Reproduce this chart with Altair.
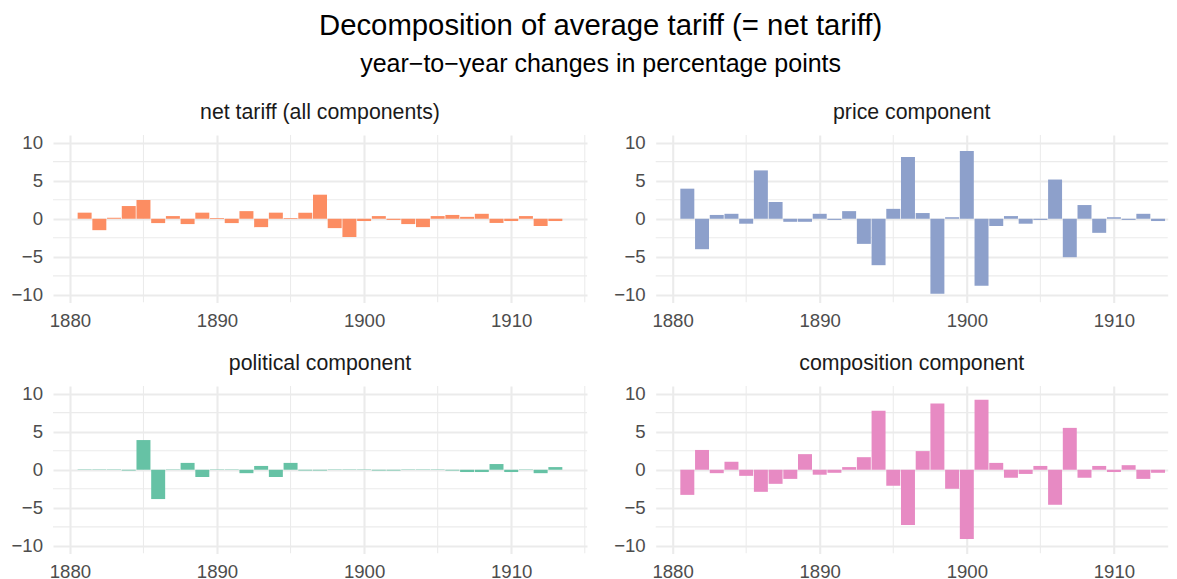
import altair as alt
import pandas as pd

# ---- data ----
years = list(range(1881, 1914))

net_tariff = [0.8, -1.5, 0.13, 1.67, 2.46, -0.57, 0.35, -0.7, 0.8, 0.1,
              -0.57, 1.0, -1.1, 0.8, 0.1, 0.8, 3.16, -1.23, -2.4, -0.3,
              0.35, -0.15, -0.7, -1.1, 0.35, 0.5, 0.25, 0.65, -0.55, -0.3,
              0.35, -0.95, -0.3]

price = [3.95, -4.0, 0.5, 0.65, -0.65, 6.35, 2.2, -0.4, -0.4, 0.65,
         -0.15, 1.0, -3.3, -6.1, 1.3, 8.1, 0.75, -9.85, 0.2, 8.9,
         -8.8, -0.95, 0.35, -0.65, -0.15, 5.15, -5.05, 1.8, -1.85, 0.2,
         -0.15, 0.65, -0.3]

political = [0.05, 0.05, 0.05, -0.1, 3.9, -3.85, 0.05, 0.9, -0.95, 0.05,
             0.05, -0.45, 0.5, -0.95, 0.9, -0.1, -0.1, 0.05, 0.05, 0.05,
             -0.1, -0.1, 0.05, 0.05, 0.05, -0.1, -0.3, -0.3, 0.75, -0.3,
             0.05, -0.45, 0.35]

composition = [-3.3, 2.6, -0.45, 1.05, -0.8, -2.9, -1.85, -1.2, 2.05, -0.65,
               -0.4, 0.35, 1.65, 7.75, -2.1, -7.25, 2.45, 8.7, -2.5, -9.1,
               9.2, 0.9, -1.05, -0.55, 0.5, -4.6, 5.5, -1.05, 0.5, -0.3,
               0.6, -1.2, -0.4]

panel_titles = ["net tariff (all components)", "price component",
                "political component", "composition component"]
panel_colors = ["#FC8D62", "#8DA0CB", "#66C2A5", "#E78AC3"]

x_ticks = [1880, 1890, 1900, 1910]
x_minor = [1885, 1895, 1905, 1915]
y_ticks = [-10, -5, 0, 5, 10]
y_minor = [-7.5, -2.5, 2.5, 7.5]

FONT = "Liberation Sans"
GRID = "#EBEBEB"
PX_PER_YEAR = 14.71
X_START = 1878.85
LEFT_W = 534          # left column: full expanded range to 1915.15
RIGHT_W = 512         # right column is cut by the page edge in the reference
PH = 167.5
Y_DOMAIN = [-11, 11]


def panel(values, color, title, width):
    df = pd.DataFrame({"year": years, "value": values})
    xs = alt.Scale(domain=[X_START, X_START + width / PX_PER_YEAR],
                   nice=False, zero=False)
    ys = alt.Scale(domain=Y_DOMAIN, nice=False, zero=False)

    vminor = alt.Chart(pd.DataFrame({"x": x_minor})).mark_rule(
        color=GRID, strokeWidth=1.05, clip=True
    ).encode(x=alt.X("x:Q", scale=xs))
    hminor = alt.Chart(pd.DataFrame({"y": y_minor})).mark_rule(
        color=GRID, strokeWidth=1.05
    ).encode(y=alt.Y("y:Q", scale=ys))

    bars = alt.Chart(df).transform_calculate(
        x0="datum.year - 0.475", x1="datum.year + 0.475"
    ).mark_bar(color=color).encode(
        x=alt.X("x0:Q", scale=xs,
                axis=alt.Axis(values=x_ticks, format="d", title=None,
                              labelPadding=8.5)),
        x2="x1:Q",
        y=alt.Y("value:Q", scale=ys,
                axis=alt.Axis(values=y_ticks, title=None, labelPadding=10.5)),
        y2=alt.datum(0),
    )
    return alt.layer(vminor, hminor, bars).properties(
        width=width, height=PH,
        title=alt.TitleParams(title, fontSize=21.3, font=FONT, color="#1A1A1A",
                              fontWeight="normal", anchor="middle", offset=10),
    )


widths = [LEFT_W, RIGHT_W, LEFT_W, RIGHT_W]
p = [panel(v, c, t, w) for v, c, t, w in
     zip([net_tariff, price, political, composition], panel_colors,
         panel_titles, widths)]

chart = alt.concat(
    *p, columns=2, spacing={"row": 83, "column": 68.7}, bounds="flush"
).properties(
    title=alt.TitleParams(
        "Decomposition of average tariff (= net tariff)",
        subtitle="year\u2212to\u2212year changes in percentage points",
        fontSize=29.3, subtitleFontSize=25, font=FONT, subtitleFont=FONT,
        fontWeight="normal", color="black", subtitleColor="black",
        anchor="middle", subtitlePadding=11, offset=25, dx=11,
    ),
    padding={"left": 2, "top": 4, "right": 0, "bottom": 0},
).configure_axis(
    domain=False, ticks=False, grid=True, gridColor=GRID, gridWidth=2.1,
    labelFont=FONT, labelFontSize=18.6, labelColor="#4D4D4D",
).configure_view(strokeOpacity=0)

chart.save("out.html", embed_options={"renderer": "svg", "actions": False})
